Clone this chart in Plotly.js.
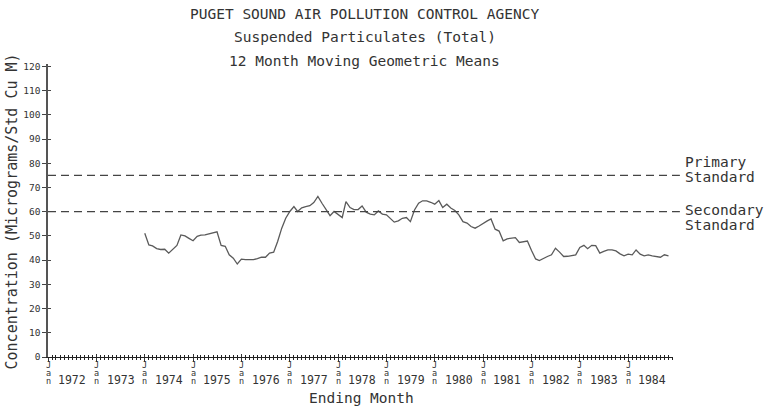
<!DOCTYPE html>
<html>
<head>
<meta charset="utf-8">
<script src="https://cdn.plot.ly/plotly-3.0.1.min.js"></script>
<style>html,body{margin:0;padding:0;background:#fff;} #chart{width:768px;height:418px;}</style>
</head>
<body>
<div id="chart"></div>
<script>
// ---- data ----
const startYear = 1974;           // first month of the series: Jan 1974
const v1974 = [51.1, 46.3, 45.9, 44.8, 44.4, 44.5, 42.9, 44.3, 46.1, 50.4, 50.0, 49.0];
const v1975 = [48.0, 49.8, 50.3, 50.4, 50.8, 51.4, 51.7, 46.1, 45.7, 42.2, 40.8, 38.4];
const v1976 = [40.4, 40.2, 40.1, 40.2, 40.6, 41.2, 41.2, 42.9, 43.3, 47.7, 53.2, 57.3];
const v1977 = [60.1, 62.1, 60.1, 61.6, 62.1, 62.5, 63.8, 66.3, 63.5, 60.7, 58.4, 60.1];
const v1978 = [59.0, 57.6, 64.2, 61.7, 60.9, 60.9, 62.4, 59.8, 59.0, 58.7, 60.3, 59.0];
const v1979 = [58.7, 57.3, 55.7, 56.2, 57.3, 57.6, 55.9, 60.7, 63.5, 64.5, 64.5, 63.9];
const v1980 = [63.1, 64.6, 61.7, 63.1, 61.5, 60.5, 58.7, 55.9, 55.3, 53.9, 53.2, 54.1];
const v1981 = [55.3, 56.2, 57.0, 52.8, 52.0, 48.0, 48.8, 49.1, 49.3, 47.3, 47.7, 47.9];
const v1982 = [44.0, 40.5, 39.8, 40.8, 41.5, 42.2, 44.9, 43.3, 41.5, 41.6, 41.9, 42.2];
const v1983 = [45.2, 46.1, 44.7, 46.1, 46.0, 42.9, 43.6, 44.2, 44.2, 43.8, 42.6, 41.8];
const v1984 = [42.5, 42.2, 44.2, 42.5, 41.8, 42.2, 41.8, 41.5, 41.2, 42.2, 41.8];

const tickYears = [1972, 1973, 1974, 1975, 1976, 1977, 1978, 1979, 1980, 1981, 1982, 1983, 1984];
const tickLetters = ["J", "a", "n"];
const yTicks = [0, 10, 20, 30, 40, 50, 60, 70, 80, 90, 100, 110, 120];
const standardValues = [75, 60];
const standardLabels = [["Primary", "Standard"], ["Secondary", "Standard"]];
const titleLines = ["PUGET SOUND AIR POLLUTION CONTROL AGENCY", "Suspended Particulates (Total)", "12 Month Moving Geometric Means"];
const yTitle = "Concentration (Micrograms/Std Cu M)";
const xTitle = "Ending Month";

// ---- build series ----
const values = [].concat(v1974, v1975, v1976, v1977, v1978, v1979, v1980, v1981, v1982, v1983, v1984);
const dates = values.map((_, i) => {
  const y = startYear + Math.floor(i / 12);
  const m = (i % 12) + 1;
  return y + "-" + String(m).padStart(2, "0") + "-01";
});

const FONT = "DejaVu Sans Mono, Liberation Mono, monospace";
const TXT = "#333";

const traces = [
  {x: dates, y: values, type: "scatter", mode: "lines",
   line: {color: "#5a5a5a", width: 1.3}, hoverinfo: "skip", showlegend: false},
  {x: [dates[0]], y: [null], type: "scatter", mode: "lines", xaxis: "x2", yaxis: "y2", showlegend: false, hoverinfo: "skip"}
];

const janVals = tickYears.map(y => y + "-01-01");
const xRange = ["1972-01-01", "1984-12-05"];

const annotations = [];
const titleY = [1.1706, 1.0922, 1.0102];
titleLines.forEach((t, i) => annotations.push({
  text: t, xref: "paper", yref: "paper", x: 0.507, y: titleY[i],
  xanchor: "center", yanchor: "middle", showarrow: false,
  font: {family: FONT, size: 14.5, color: TXT}
}));
// stacked "J a n" under each January tick
const letterY = [-0.0273, -0.0555, -0.0810];
janVals.forEach(d => tickLetters.forEach((ch, k) => annotations.push({
  text: ch, xref: "x", yref: "paper", x: d, y: letterY[k],
  xanchor: "center", yanchor: "middle", showarrow: false,
  font: {family: FONT, size: 8.5, color: TXT}
})));
tickYears.forEach(y => annotations.push({
  text: String(y), xref: "x", yref: "paper", x: y + "-07-02", y: -0.077,
  xanchor: "center", yanchor: "middle", showarrow: false,
  font: {family: FONT, size: 11.5, color: TXT}
}));
annotations.push({
  text: yTitle, xref: "paper", yref: "paper", x: -0.0576, y: 0.4966, textangle: -90,
  xanchor: "center", yanchor: "middle", showarrow: false,
  font: {family: FONT, size: 15, color: TXT}
});
annotations.push({
  text: xTitle, xref: "paper", yref: "paper", x: 0.5008, y: -0.14,
  xanchor: "center", yanchor: "middle", showarrow: false,
  font: {family: FONT, size: 14.5, color: TXT}
});
const labelOffsets = [[5.5, -0.8], [0.8, -5.3]];
standardValues.forEach((v, i) => {
  standardLabels[i].forEach((t, j) => annotations.push({
    text: t, xref: "paper", yref: "y", x: 1.016, y: v + labelOffsets[i][j],
    xanchor: "left", yanchor: "middle", showarrow: false,
    font: {family: FONT, size: 14.5, color: TXT}
  }));
});

const shapes = standardValues.map(v => ({
  type: "line", xref: "paper", yref: "y", x0: 0, x1: 1.011, y0: v, y1: v,
  line: {color: "#444", width: 1.2, dash: "8px,5px"}
}));

const minorTicks = (dir) => ({tickmode: "linear", tick0: "1972-01-01", dtick: "M1", ticks: dir, ticklen: 2, tickcolor: "#222", showgrid: false});

const layout = {
  width: 768, height: 418,
  margin: {l: 48, r: 95, t: 64, b: 61},
  paper_bgcolor: "#fff", plot_bgcolor: "#fff",
  showlegend: false,
  font: {family: FONT, color: TXT},
  xaxis: {
    type: "date", range: xRange, tickmode: "array", tickvals: janVals,
    showticklabels: false,
    ticks: "outside", ticklen: 4, tickcolor: "#333", tickwidth: 1,
    showgrid: false, zeroline: false, showline: true, linecolor: "#222", linewidth: 1,
    minor: minorTicks("outside"),
    fixedrange: true
  },
  xaxis2: {
    type: "date", overlaying: "x", matches: "x", anchor: "y", side: "bottom",
    tickmode: "array", tickvals: janVals, showticklabels: false,
    ticks: "inside", ticklen: 3, tickcolor: "#333",
    minor: minorTicks("inside"),
    showgrid: false, zeroline: false, showline: false
  },
  yaxis: {
    range: [0, 121], tickmode: "array", tickvals: yTicks, ticktext: yTicks.map(String),
    ticks: "outside", ticklen: 4, tickcolor: "#444",
    tickfont: {family: FONT, size: 9.5, color: TXT},
    showgrid: false, zeroline: false, showline: true, linecolor: "#555", linewidth: 1.6,
    fixedrange: true
  },
  yaxis2: {
    range: [0, 121], overlaying: "y", matches: "y", anchor: "x", side: "left",
    tickmode: "array", tickvals: yTicks, showticklabels: false,
    ticks: "inside", ticklen: 3, tickcolor: "#444",
    showgrid: false, zeroline: false, showline: false
  },
  shapes: shapes,
  annotations: annotations
};

Plotly.newPlot("chart", traces, layout, {displayModeBar: false, staticPlot: true});
</script>
</body>
</html>
